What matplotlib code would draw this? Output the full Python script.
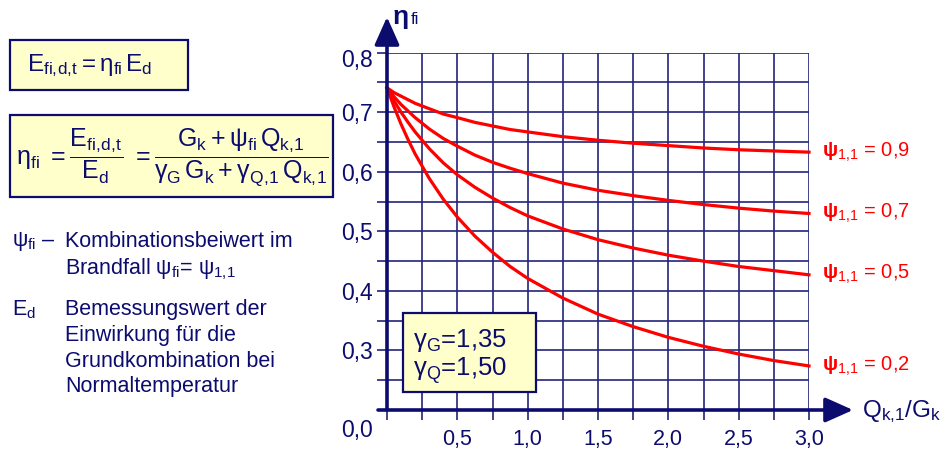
import matplotlib.pyplot as plt
from matplotlib.patches import Rectangle

plt.rcParams['font.family'] = ['Liberation Sans', 'DejaVu Sans']
plt.rcParams['mathtext.fontset'] = 'custom'
plt.rcParams['mathtext.rm'] = 'Liberation Sans'
plt.rcParams['mathtext.it'] = 'Liberation Sans:italic'
plt.rcParams['mathtext.bf'] = 'Liberation Sans:bold'
plt.rcParams['mathtext.default'] = 'regular'

NAVY = '#0c0c6e'
GRID = '#24247c'
RED = '#ff0000'
FILL = '#ffffcc'

# Q_k,1 / G_k values at which the curves were read
ratio = [0, 0.05, 0.1, 0.15, 0.2, 0.3, 0.4, 0.5, 0.625, 0.75, 0.875, 1.0,
         1.25, 1.5, 1.75, 2.0, 2.25, 2.5, 2.75, 3.0]

# eta_fi for each psi_1,1
eta_09 = [0.741, 0.733, 0.727, 0.721, 0.715, 0.706, 0.697, 0.691, 0.683, 0.677,
          0.671, 0.667, 0.659, 0.653, 0.648, 0.644, 0.640, 0.637, 0.635, 0.633]
eta_07 = [0.741, 0.726, 0.713, 0.702, 0.691, 0.672, 0.656, 0.643, 0.628, 0.616,
          0.606, 0.597, 0.581, 0.569, 0.560, 0.552, 0.545, 0.539, 0.534, 0.530]
eta_05 = [0.741, 0.719, 0.700, 0.683, 0.667, 0.639, 0.615, 0.595, 0.574, 0.556,
          0.540, 0.526, 0.504, 0.486, 0.472, 0.460, 0.450, 0.441, 0.434, 0.427]
eta_02 = [0.741, 0.709, 0.680, 0.654, 0.630, 0.589, 0.554, 0.524, 0.492, 0.465,
          0.441, 0.421, 0.388, 0.361, 0.340, 0.322, 0.307, 0.294, 0.283, 0.274]

curves = [eta_09, eta_07, eta_05, eta_02]
psi_labels = ['0,9', '0,7', '0,5', '0,2']

x_tick_values = [0.5, 1.0, 1.5, 2.0, 2.5, 3.0]
x_tick_labels = ['0,5', '1,0', '1,5', '2,0', '2,5', '3,0']
y_tick_values = [0.3, 0.4, 0.5, 0.6, 0.7, 0.8]
y_tick_labels = ['0,3', '0,4', '0,5', '0,6', '0,7', '0,8']

W, H = 942, 453
fig = plt.figure(figsize=(W / 100, H / 100), dpi=100)


def px(x, y):
    # pixel position (top-left origin) -> figure fraction
    return x / W, 1 - y / H


def box(x0, y0, x1, y1, z=1):
    fig.add_artist(Rectangle(px(x0, y1), (x1 - x0) / W, (y1 - y0) / H,
                             transform=fig.transFigure, facecolor=FILL,
                             edgecolor=NAVY, lw=1.6, zorder=z))


# chart area
ax = fig.add_axes([387 / W, 1 - 410 / H, 422 / W, 357.3 / H])
ax.set_xlim(0, 3)
ax.set_ylim(0.2, 0.8)
for s in ax.spines.values():
    s.set_visible(False)

xgrid = [i * 0.25 for i in range(13)]
ygrid = [0.2 + i * 0.05 for i in range(13)]
ax.set_xticks(xgrid)
ax.set_yticks(ygrid)
xl = []
for v in xgrid:
    xl.append(x_tick_labels[x_tick_values.index(v)] if v in x_tick_values else '')
yl = []
for v in ygrid:
    m = [lab for tv, lab in zip(y_tick_values, y_tick_labels) if abs(tv - v) < 1e-6]
    # top label is placed by hand further down
    yl.append(m[0] if m and m[0] != '0,8' else '')
ax.set_xticklabels(xl)
ax.set_yticklabels(yl)
ax.tick_params(axis='both', direction='out', length=7, width=1.2, color=GRID,
               labelcolor=NAVY)
ax.tick_params(axis='x', pad=7, labelsize=15.5)
ax.tick_params(axis='y', pad=3, labelsize=16.5)
ax.set_axisbelow(True)
ax.grid(True, color=GRID, lw=1.2)

for eta, lab in zip(curves, psi_labels):
    ax.plot(ratio, eta, color=RED, lw=2.3, clip_on=False, zorder=3)
    ax.annotate(r'$\mathbf{\psi}_{1,\!1}$ = ' + lab, xy=(ratio[-1], eta[-1]),
                xytext=(9, 0), textcoords='offset points', va='center',
                ha='left', color=RED, fontsize=14.5, annotation_clip=False)

# axis arrows
ax.annotate('', xy=(0, 0.860), xytext=(0, 0.2), annotation_clip=False,
            arrowprops=dict(arrowstyle='-|>,head_length=0.85,head_width=0.38',
                            mutation_scale=20, lw=2.6, color=NAVY,
                            shrinkA=0, shrinkB=0))
ax.annotate('', xy=(3.313, 0.2), xytext=(-0.064, 0.2), annotation_clip=False,
            arrowprops=dict(arrowstyle='-|>,head_length=0.85,head_width=0.38',
                            mutation_scale=20, lw=2.6, color=NAVY,
                            shrinkA=0, shrinkB=0))

fig.text(*px(373, 61), '0,8', ha='right', va='center', color=NAVY, fontsize=16.5)
fig.text(*px(373, 431), '0,0', ha='right', va='center', color=NAVY, fontsize=16.5)
fig.text(*px(393, 17), 'η', ha='left', va='center', color=NAVY, fontsize=19,
         fontweight='bold')
fig.text(*px(411, 19), 'fi', ha='left', va='center', color=NAVY, fontsize=12)
fig.text(*px(862, 412), r'$Q_{k,\!1}/G_k$', ha='left', va='center', color=NAVY,
         fontsize=17.5)

# gamma box
box(403, 313, 536, 392, z=5)
fig.text(*px(413, 340), r'$\gamma_G$=1,35', ha='left', va='center', color=NAVY,
         fontsize=18.5, zorder=6)
fig.text(*px(413, 371), r'$\gamma_Q$=1,50', ha='left', va='center', color=NAVY,
         fontsize=18.5, zorder=6)

# formula boxes
box(10, 40, 188, 90)
fig.text(*px(27, 66), r'$E_{fi,\!d,\!t} = \eta_{fi}\,E_d$', ha='left', va='center',
         color=NAVY, fontsize=17.5, zorder=3)
box(10, 115, 333, 197)
fig.text(*px(16, 157),
         r'$\eta_{fi}\ = \dfrac{E_{fi,\!d,\!t}}{E_d}\ = '
         r'\dfrac{G_k + \psi_{fi}\,Q_{k,\!1}}{\gamma_G\,G_k + \gamma_{Q,\!1}\,Q_{k,\!1}}$',
         ha='left', va='center', color=NAVY, fontsize=18, zorder=3)

# explanations
fig.text(*px(12, 242), r'$\psi_{fi}$ –', ha='left', va='center', color=NAVY,
         fontsize=15.5)
fig.text(*px(65, 242), 'Kombinationsbeiwert im', ha='left', va='center',
         color=NAVY, fontsize=15.5)
fig.text(*px(65, 269), r'Brandfall $\psi_{fi}$= $\psi_{1,\!1}$', ha='left',
         va='center', color=NAVY, fontsize=15.5)
fig.text(*px(12, 310), r'$E_d$', ha='left', va='center', color=NAVY, fontsize=15.5)
lines = ['Bemessungswert der', 'Einwirkung für die', 'Grundkombination bei',
         'Normaltemperatur']
for i, t in enumerate(lines):
    fig.text(*px(65, 310 + i * 25.6), t, ha='left', va='center', color=NAVY,
             fontsize=15.5)

fig.savefig('out.png', dpi=100, facecolor='white')
